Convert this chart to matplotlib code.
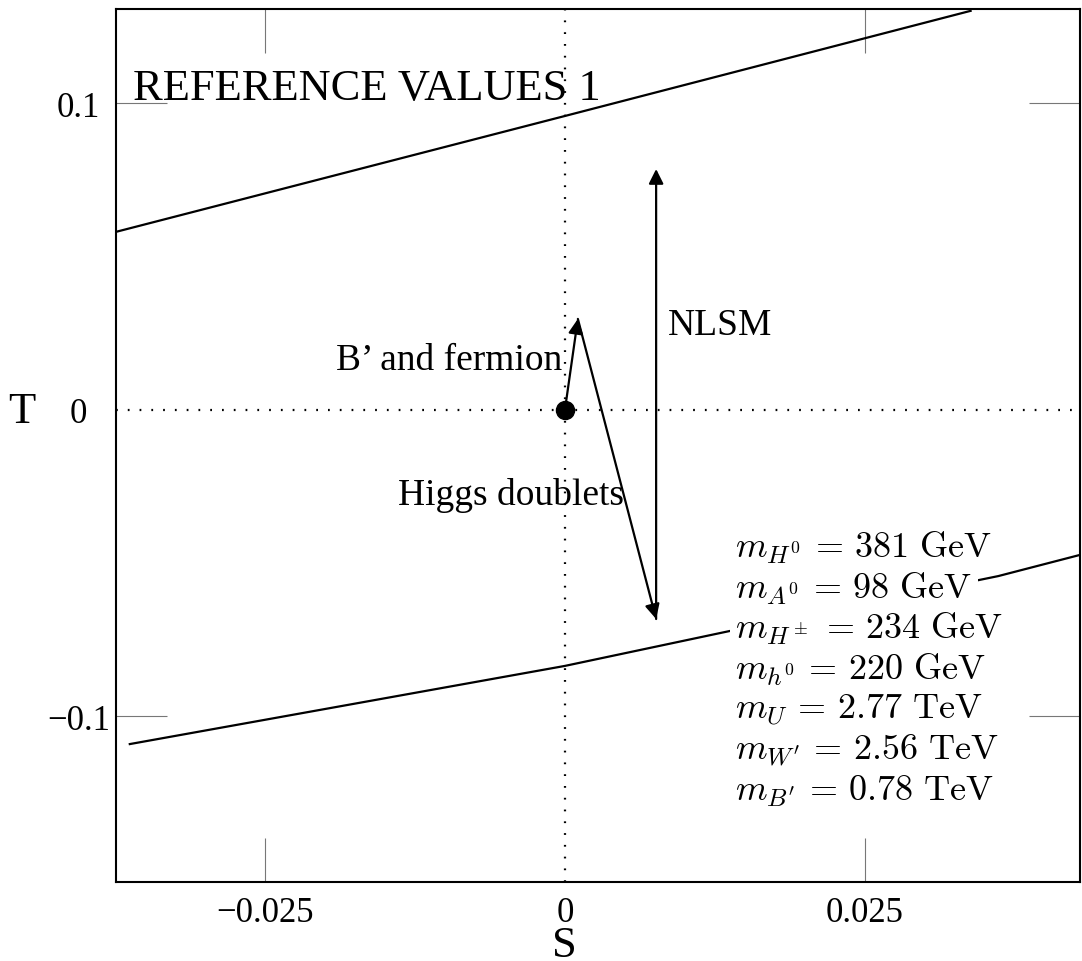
import matplotlib
matplotlib.use("Agg")
import matplotlib.pyplot as plt

plt.rcParams['font.family'] = ['Liberation Serif', 'DejaVu Serif']
plt.rcParams['mathtext.fontset'] = 'cm'

# curves (S, T)
upper_s = [-0.0374, 0.0, 0.0338]
upper_t = [0.0581, 0.0959, 0.1302]
lower_s = [-0.03625, 0.0, 0.01375, 0.0361, 0.0429]
lower_t = [-0.109, -0.0835, -0.0721, -0.0542, -0.0473]

# arrow chain: reference point -> B' and fermion -> Higgs doublets -> NLSM
chain_s = [0.0, 0.00108, 0.0076, 0.0076]
chain_t = [0.0, 0.0297, -0.0682, 0.0786]

x_ticks = [-0.025, 0.0, 0.025]
x_labels = ['\u22120.025', '0', '0.025']
y_ticks = [-0.1, 0.0, 0.1]
y_labels = ['\u22120.1', '0', '0.1']

masses = [r'$m_{H^0}\,=\,381\ \mathrm{GeV}\quad$',
          r'$m_{A^0}\,=\,98\ \mathrm{GeV}\quad$',
          r'$m_{H^\pm}\,=\,234\ \mathrm{GeV}\quad$',
          r'$m_{h^0}\,=\,220\ \mathrm{GeV}\quad$',
          r'$m_U\,=\,2.77\ \mathrm{TeV}\quad$',
          r'$m_{W^\prime}\,=\,2.56\ \mathrm{TeV}\quad$',
          r'$m_{B^\prime}\,=\,0.78\ \mathrm{TeV}\quad$']

fig = plt.figure(figsize=(10.82, 9.62), dpi=100)
ax = fig.add_axes([0.1072, 0.0821, 0.8908, 0.9075])
ax.set_xlim(-0.0374, 0.0429)
ax.set_ylim(-0.154, 0.1308)

# dotted axes through the origin
ax.axvline(0, color='black', lw=1.6, linestyle=(0, (0.8, 4.5)), zorder=1)
ax.axhline(0, color='black', lw=1.6, linestyle=(0, (0.8, 4.5)), zorder=1)

ax.plot(upper_s, upper_t, color='black', lw=1.6, zorder=2)
ax.plot(lower_s, lower_t, color='black', lw=1.6, zorder=2)

# arrows
for i in range(len(chain_s) - 1):
    ax.annotate('', xy=(chain_s[i + 1], chain_t[i + 1]),
                xytext=(chain_s[i], chain_t[i]),
                arrowprops=dict(arrowstyle='-|>', color='black', lw=1.6,
                                mutation_scale=22, shrinkA=0, shrinkB=0),
                zorder=3)
ax.plot([chain_s[0]], [chain_t[0]], 'o', color='black', markersize=13, zorder=4)

ax.text(-0.036, 0.1015, 'REFERENCE VALUES 1', fontsize=32, ha='left', va='baseline')
ax.text(0.00858, 0.0248, 'NLSM', fontsize=27, ha='left', va='baseline')
ax.text(-0.00025, 0.0134, 'B\u2019 and fermion', fontsize=27, ha='right', va='baseline')
ax.text(-0.0139, -0.0307, 'Higgs doublets', fontsize=27, ha='left', va='baseline')

y0 = -0.0447
step = 0.01321
for i, m in enumerate(masses):
    ax.text(0.0142, y0 - i * step, m, fontsize=26, ha='left', va='center',
            bbox=dict(facecolor='white', edgecolor='none', pad=4.0), zorder=5)

ax.set_xticks(x_ticks)
ax.set_xticklabels(x_labels, fontsize=25)
ax.set_yticks(y_ticks)
ax.set_yticklabels(y_labels, fontsize=25, ha='center')
ax.tick_params(axis='x', direction='in', length=32, width=0.8, color='#777777',
               top=True, pad=10)
ax.tick_params(axis='y', direction='in', length=37, width=0.8, color='#777777',
               right=True, pad=27)
# no solid tick at zero, only the dotted line
for t in ax.xaxis.get_major_ticks()[1:2] + ax.yaxis.get_major_ticks()[1:2]:
    t.tick1line.set_visible(False)
    t.tick2line.set_visible(False)

for sp in ax.spines.values():
    sp.set_linewidth(1.5)

ax.set_xlabel('S', fontsize=32, va='baseline')
ax.xaxis.set_label_coords(0.465, -0.085)
ax.set_ylabel('T', fontsize=32, rotation=0, va='center', ha='center')
ax.yaxis.set_label_coords(-0.098, 0.54)

fig.savefig('out.png', dpi=100)
